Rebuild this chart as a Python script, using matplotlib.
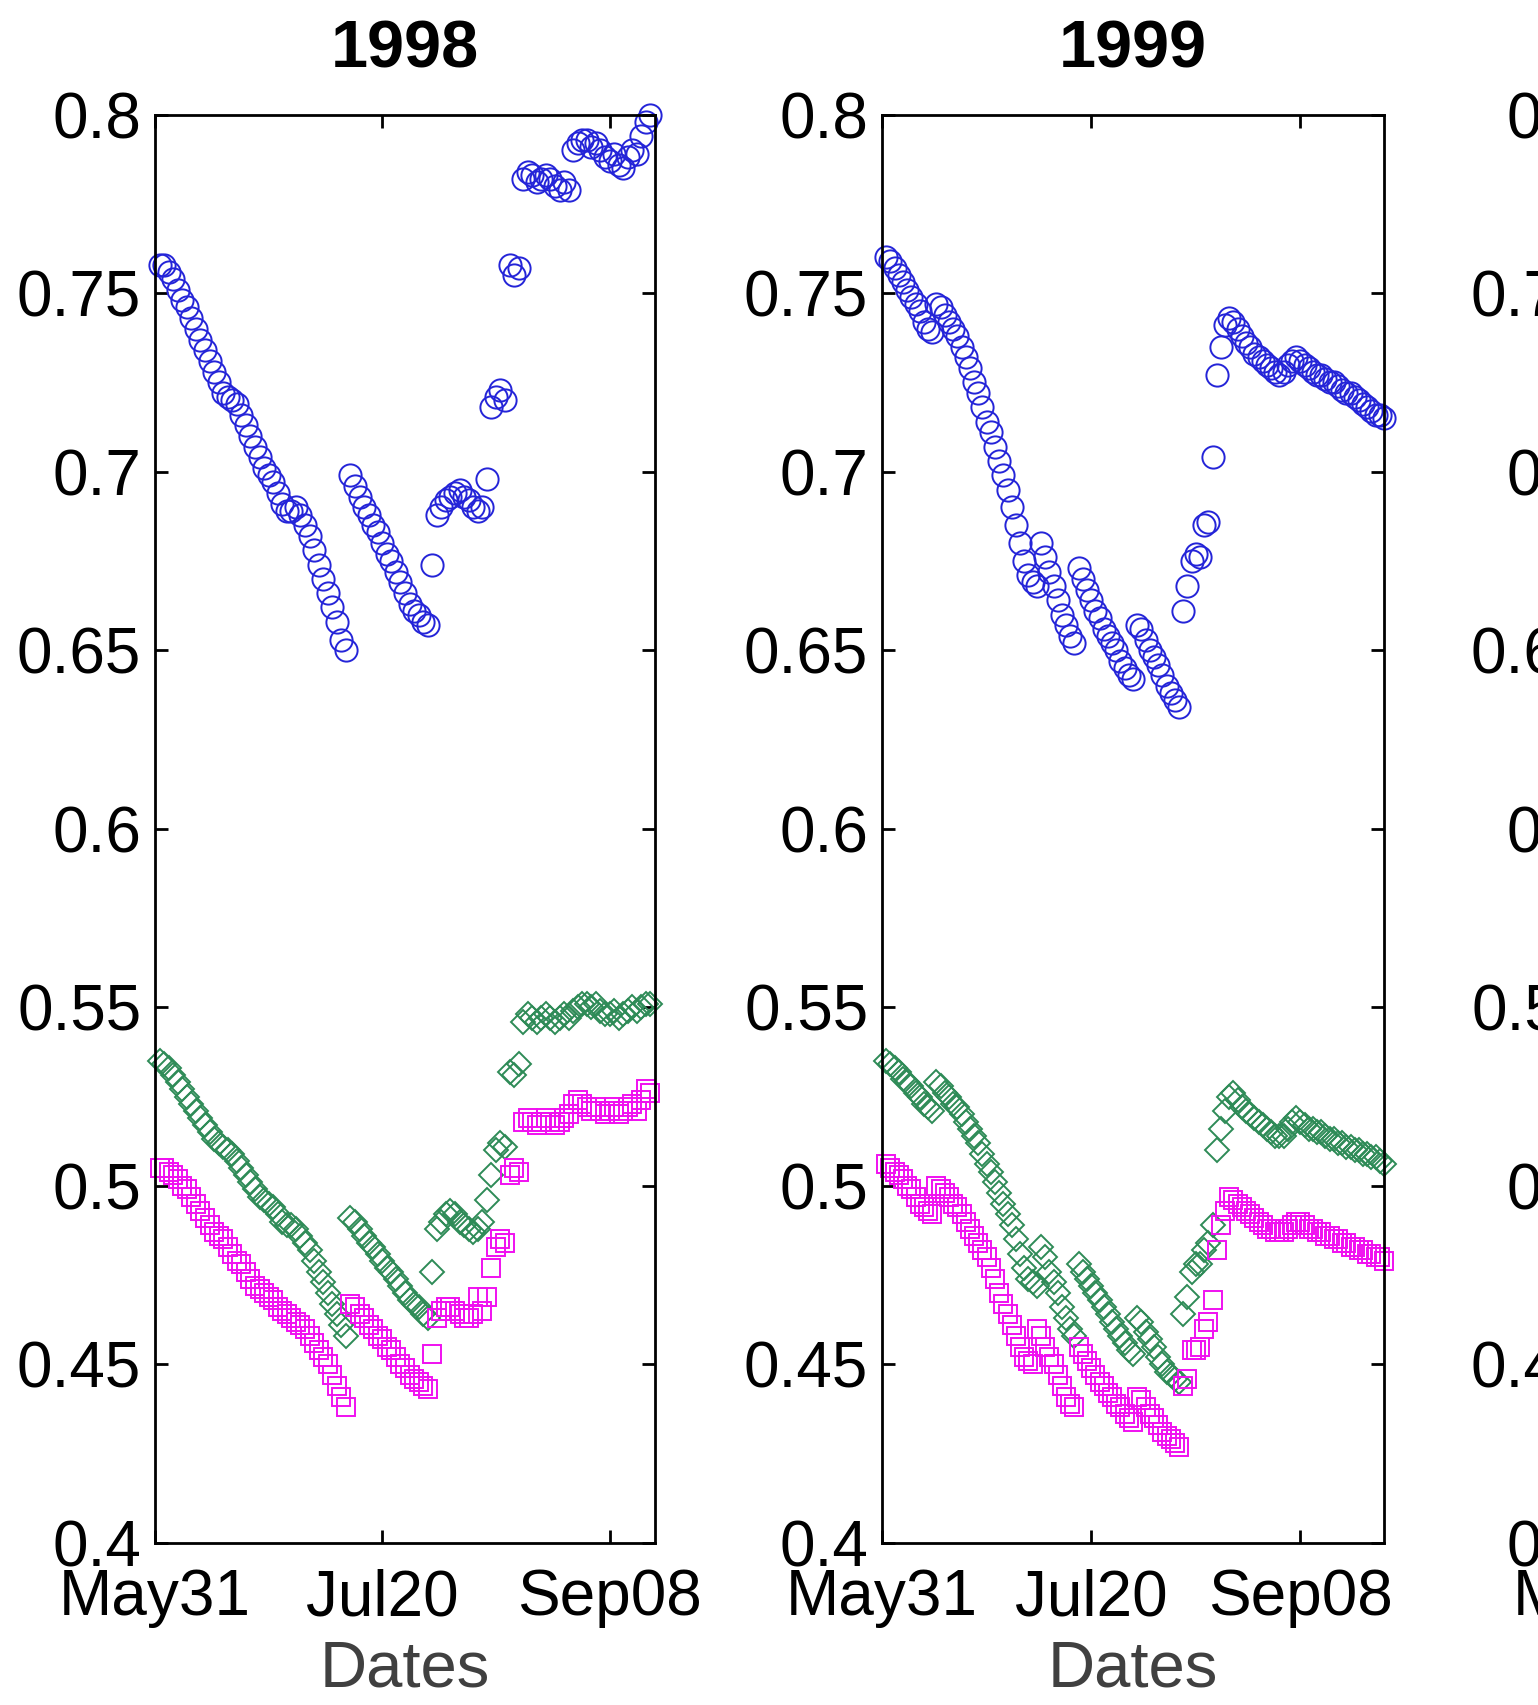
import numpy as np
import matplotlib
matplotlib.use("Agg")
import matplotlib.pyplot as plt

plt.rcParams['font.family'] = ['Liberation Sans', 'DejaVu Sans']

# daily values, 1998 season (days after May31)
days98 = list(range(1, 110))
blue98 = [.758, .758, .756, .754, .751, .748, .746, .743, .740, .737,
          .734, .731, .728, .725, .722, .721, .720, .719, .716, .713,
          .710, .707, .704, .701, .699, .697, .694, .691, .689, .689,
          .690, .688, .685, .682, .678, .674, .670, .666, .662, .658,
          .653, .650, .699, .696, .693, .690, .688, .685, .683, .680,
          .677, .675, .672, .669, .666, .663, .661, .660, .658, .657,
          .674, .688, .690, .692, .693, .694, .695, .693, .692, .690,
          .689, .690, .698, .718, .721, .723, .720, .758, .755, .757,
          .782, .784, .783, .781, .782, .783, .782, .780, .779, .781,
          .779, .790, .792, .793, .793, .791, .792, .790, .788, .787,
          .789, .786, .785, .788, .790, .789, .794, .798, .800]
green98 = [.535, .534, .533, .531, .529, .527, .525, .523, .521, .519,
           .517, .515, .513, .512, .511, .510, .509, .507, .505, .503,
           .501, .499, .497, .496, .495, .494, .492, .490, .489, .489,
           .488, .486, .484, .482, .479, .476, .473, .470, .467, .464,
           .461, .458, .491, .490, .488, .486, .484, .483, .481, .479,
           .477, .476, .474, .472, .470, .468, .467, .466, .464, .463,
           .476, .488, .490, .492, .493, .492, .490, .489, .488, .487,
           .488, .490, .496, .503, .510, .512, .511, .532, .531, .534,
           .546, .548, .547, .546, .547, .548, .547, .546, .547, .548,
           .547, .549, .550, .551, .551, .550, .551, .549, .548, .548,
           .549, .547, .548, .549, .550, .549, .550, .551, .551]
mag98 = [.505, .505, .504, .503, .502, .500, .499, .497, .495, .493,
         .491, .489, .487, .486, .485, .483, .481, .479, .478, .476,
         .474, .472, .471, .470, .469, .468, .466, .465, .464, .463,
         .462, .461, .460, .458, .456, .454, .452, .450, .447, .444,
         .441, .438, .467, .466, .464, .463, .461, .460, .458, .457,
         .455, .454, .452, .450, .449, .447, .446, .445, .444, .443,
         .453, .463, .465, .466, .466, .465, .464, .463, .463, .464,
         .469, .465, .469, .477, .483, .485, .484, .503, .505, .504,
         .518, .519, .518, .517, .518, .519, .518, .517, .518, .519,
         .520, .523, .524, .523, .522, .521, .522, .521, .520, .521,
         .522, .520, .521, .522, .523, .521, .524, .527, .526]

# daily values, 1999 season
days99 = list(range(1, 121))
blue99 = [.760, .759, .757, .755, .753, .751, .749, .747, .745, .742,
          .740, .739, .747, .746, .744, .742, .740, .738, .735, .732,
          .729, .725, .722, .718, .714, .711, .707, .703, .699, .695,
          .690, .685, .680, .675, .671, .669, .668, .680, .676, .672,
          .668, .664, .660, .657, .654, .652, .673, .670, .667, .664,
          .661, .659, .656, .654, .652, .650, .647, .645, .643, .642,
          .657, .656, .653, .650, .648, .646, .643, .640, .638, .636,
          .634, .661, .668, .675, .677, .676, .685, .686, .704, .727,
          .735, .741, .743, .742, .740, .738, .736, .735, .733, .732,
          .731, .730, .729, .728, .727, .728, .730, .731, .732, .731,
          .730, .729, .728, .727, .727, .726, .725, .725, .724, .723,
          .722, .722, .721, .720, .719, .718, .717, .716, .716, .715]
green99 = [.535, .534, .533, .532, .530, .529, .528, .526, .525, .523,
           .522, .521, .529, .528, .526, .525, .523, .522, .520, .518,
           .516, .514, .512, .509, .506, .504, .501, .498, .495, .492,
           .489, .485, .481, .477, .474, .473, .472, .483, .480, .476,
           .473, .470, .466, .463, .460, .458, .478, .476, .474, .472,
           .470, .468, .466, .464, .462, .460, .458, .456, .454, .453,
           .463, .462, .459, .457, .455, .452, .450, .448, .447, .446,
           .445, .464, .469, .476, .478, .478, .482, .484, .489, .510,
           .516, .521, .525, .526, .524, .522, .521, .520, .519, .518,
           .517, .516, .515, .514, .514, .514, .516, .518, .519, .518,
           .517, .516, .516, .515, .515, .514, .513, .513, .512, .512,
           .511, .511, .510, .510, .509, .509, .508, .508, .507, .506]
mag99 = [.506, .505, .504, .503, .502, .500, .499, .497, .495, .494,
         .493, .492, .500, .499, .498, .497, .495, .494, .492, .490,
         .488, .486, .484, .482, .480, .477, .474, .470, .467, .464,
         .461, .458, .455, .452, .451, .450, .460, .458, .455, .452,
         .450, .447, .444, .441, .439, .438, .455, .453, .451, .449,
         .447, .445, .444, .442, .441, .439, .438, .436, .435, .434,
         .441, .440, .438, .436, .435, .433, .431, .430, .429, .428,
         .427, .444, .446, .454, .454, .455, .460, .462, .468, .482,
         .489, .493, .497, .496, .495, .494, .493, .492, .491, .490,
         .489, .488, .488, .487, .487, .487, .488, .489, .490, .490,
         .489, .488, .488, .487, .487, .486, .486, .485, .485, .484,
         .484, .483, .483, .482, .482, .481, .481, .480, .480, .479]

years = ["1998", "1999"]
xlims = [110, 120]
date_ticks = [0, 50, 100]
date_labels = ["May31", "Jul20", "Sep08"]
yticks = [0.4, 0.45, 0.5, 0.55, 0.6, 0.65, 0.7, 0.75, 0.8]
ylabels = ["0.4", "0.45", "0.5", "0.55", "0.6", "0.65", "0.7", "0.75", "0.8"]

BLUE = "#2424d8"
GREEN = "#2e8b57"
MAGENTA = "#f010f0"


def style_axes(ax, xmax):
    ax.set_xlim(0, xmax)
    ax.set_ylim(0.4, 0.8)
    ax.set_xticks(date_ticks)
    ax.set_xticklabels(date_labels)
    ax.set_yticks(yticks)
    ax.set_yticklabels(ylabels)
    ax.tick_params(direction="in", length=9.5, width=2, top=True, right=True,
                   labelsize=46)
    ax.tick_params(axis="x", pad=18)
    ax.tick_params(axis="y", pad=10)
    for sp in ax.spines.values():
        sp.set_linewidth(2)


fig = plt.figure(figsize=(15.38, 17.05), dpi=100)
lefts = [0.1008, 0.5735, 1.0462]
widths = [0.3251, 0.3264, 0.3264]
axes = [fig.add_axes([l, 0.095, w, 0.8378]) for l, w in zip(lefts, widths)]

series = [(days98, blue98, green98, mag98), (days99, blue99, green99, mag99)]
for ax, (d, b, g, m), yr, xm in zip(axes[:2], series, years, xlims):
    ax.plot(d, b, "o", ms=16, mfc="none", mec=BLUE, mew=1.4, clip_on=False)
    ax.plot(d, g, "D", ms=12.5, mfc="none", mec=GREEN, mew=1.4, clip_on=False)
    ax.plot(d, m, "s", ms=13, mfc="none", mec=MAGENTA, mew=1.4, clip_on=False)
    style_axes(ax, xm)
    ax.set_title(yr, fontsize=48, fontweight="bold", pad=34)
    ax.set_xlabel("Dates", fontsize=47, color="#404040", labelpad=8)

# third panel sits mostly past the right edge, only its labels show
style_axes(axes[2], 120)

fig.savefig("out.png", dpi=100)
